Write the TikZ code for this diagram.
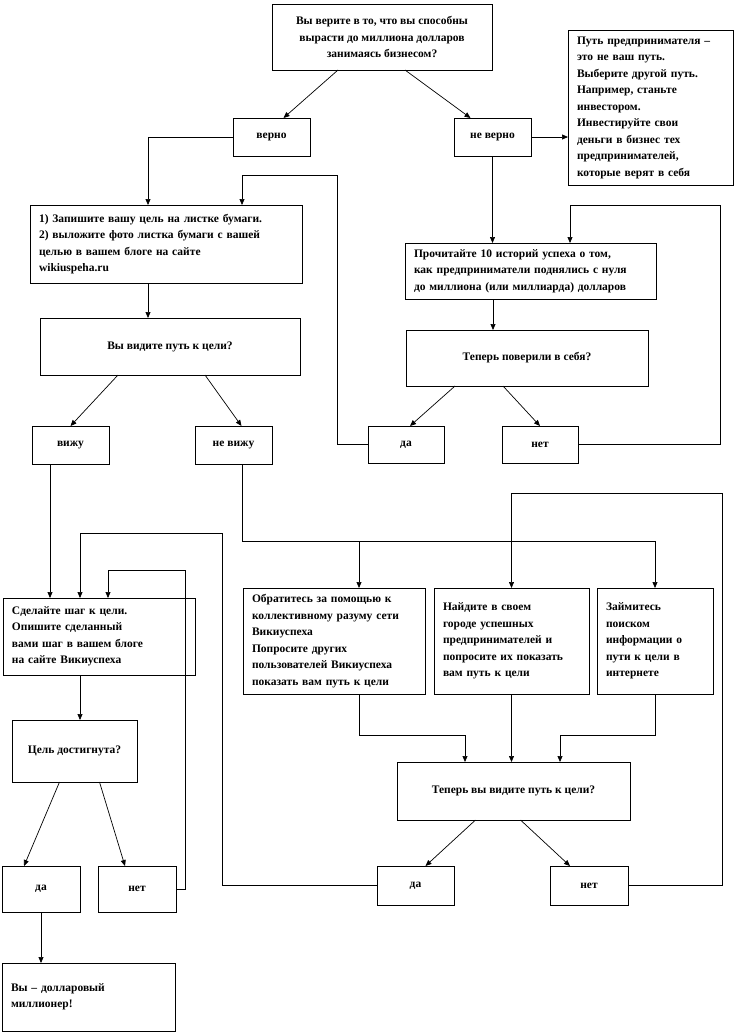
\documentclass[tikz,border=0pt]{standalone}
\usepackage{fontspec}
\setmainfont{Liberation Serif}
\usetikzlibrary{arrows.meta, positioning}

\begin{document}
\begin{tikzpicture}[x=1pt, y=-1pt,
                caja/.style={
                    rectangle,
                    draw=black,
                    line width=0.7pt,
                    outer sep=0pt,
                    anchor=north west,
                    align=left,
                    font=\bfseries\fontsize{11.5}{16.5}\selectfont,
                    inner xsep=9pt,
                    inner ysep=3pt
                },
                cajac/.style={caja, align=center},
                flecha/.style={line width=0.7pt, -{Triangle[length=6pt, width=5pt]}},
                linea/.style={line width=0.7pt}
            ]
                \useasboundingbox (0,0) rectangle (735,1034);
                % primera pregunta y respuestas
                \node[cajac, minimum width=220pt, minimum height=66pt] (preg) at (272,4) {Вы верите в то, что вы способны\\вырасти до миллиона долларов\\занимаясь бизнесом?};
                \node[caja, minimum width=165pt, minimum height=155pt, text width=147pt] (otro) at (568,30) {Путь предпринимателя –\\это не ваш путь.\\Выберите другой путь.\\Например, станьте\\инвестором.\\Инвестируйте свои\\деньги в бизнес тех\\предпринимателей,\\которые верят в себя};
                \node[cajac, minimum width=77pt, minimum height=38pt] (verno) at (233,118) {верно};
                \node[cajac, minimum width=77pt, minimum height=38pt] (neverno) at (454,118) {не верно};
                \node[caja, minimum width=272pt, minimum height=78pt, text width=254pt] (meta) at (30,205) {1) Запишите вашу цель на листке бумаги.\\2) выложите фото листка бумаги с вашей\\целью в вашем блоге на сайте\\wikiuspeha.ru};
                \node[caja, minimum width=251pt, minimum height=56pt, text width=233pt] (leer) at (405,243) {Прочитайте 10 историй успеха о том,\\как предприниматели поднялись с нуля\\до миллиона (или миллиарда) долларов};
                \node[cajac, minimum width=260pt, minimum height=57pt] (ves) at (40,318) {Вы видите путь к цели?};
                \node[cajac, minimum width=242pt, minimum height=56pt] (cree) at (406,330) {Теперь поверили в себя?};
                \node[cajac, minimum width=77pt, minimum height=38pt] (veo) at (32,426) {вижу};
                \node[cajac, minimum width=77pt, minimum height=38pt] (noveo) at (195,426) {не вижу};
                \node[cajac, minimum width=76pt, minimum height=37pt] (si1) at (368,426) {да};
                \node[cajac, minimum width=76pt, minimum height=37pt] (no1) at (502,426) {нет};
                % segunda parte
                \node[caja, minimum width=192pt, minimum height=77pt, text width=174pt] (paso) at (3,598) {Сделайте шаг к цели.\\Опишите сделанный\\вами шаг в вашем блоге\\на сайте Викиуспеха};
                \node[caja, minimum width=182pt, minimum height=106pt, text width=164pt] (red) at (243,588) {Обратитесь за помощью к\\коллективному разуму сети\\Викиуспеха\\Попросите других\\пользователей Викиуспеха\\показать вам путь к цели};
                \node[caja, minimum width=155pt, minimum height=106pt, text width=137pt] (ciudad) at (434,588) {Найдите в своем\\городе успешных\\предпринимателей и\\попросите их показать\\вам путь к цели};
                \node[caja, minimum width=116pt, minimum height=106pt, text width=98pt] (web) at (597,588) {Займитесь\\поиском\\информации о\\пути к цели в\\интернете};
                \node[cajac, minimum width=233pt, minimum height=58pt] (ves2) at (397,762) {Теперь вы видите путь к цели?};
                \node[cajac, minimum width=77pt, minimum height=39pt] (si2) at (377,866) {да};
                \node[cajac, minimum width=78pt, minimum height=39pt] (no2) at (550,866) {нет};
                \node[cajac, minimum width=125pt, minimum height=62pt] (logro) at (12,720) {Цель достигнута?};
                \node[cajac, minimum width=78pt, minimum height=46pt] (si3) at (2,866) {да};
                \node[cajac, minimum width=78pt, minimum height=46pt] (no3) at (98,866) {нет};
                \node[caja, minimum width=173pt, minimum height=68pt, text width=155pt] (fin) at (2,963) {Вы – долларовый\\миллионер!};
                % esquinas de los retornos
                \coordinate (c1) at (720,205);
                \coordinate (c2) at (337,175);
                \coordinate (c3) at (655,541);
                \coordinate (c4) at (722,493);
                \coordinate (c5) at (222,533);
                \coordinate (c6) at (185,570);
                % flechas
                \draw[flecha] ([xshift=-44pt]preg.south) -- ([xshift=12pt]verno.north);
                \draw[flecha] ([xshift=23pt]preg.south) -- ([xshift=-22pt]neverno.north);
                \draw[flecha] (neverno.east) -- (neverno.east -| otro.west);
                \draw[flecha] (verno.west) -| ([xshift=-18pt]meta.north);
                \draw[flecha] (neverno.south) -- (neverno.south |- leer.north);
                \draw[flecha] ([xshift=-18pt]meta.south) -- ([xshift=-18pt]meta.south |- ves.north);
                \draw[flecha] ([xshift=-37.5pt]leer.south) -- ([xshift=-37.5pt]leer.south |- cree.north);
                \draw[flecha] ([xshift=-52pt]ves.south) -- (veo.north);
                \draw[flecha] ([xshift=35pt]ves.south) -- ([xshift=8pt]noveo.north);
                \draw[flecha] ([xshift=-72pt]cree.south) -- ([xshift=4pt]si1.north);
                \draw[flecha] ([xshift=-24pt]cree.south) -- (no1.north);
                \draw[flecha] (no1.east) -| (c1) -| ([xshift=39.5pt]leer.north);
                \draw[flecha] (si1.west) -| (c2) -| ([xshift=76pt]meta.north);
                \draw[flecha] ([xshift=-20.5pt]veo.south) -- ([xshift=-20.5pt]veo.south |- paso.north);
                \draw[linea] ([xshift=8.5pt]noveo.south) |- (c3);
                \draw[flecha] ([xshift=25pt]red.north |- c3) -- ([xshift=25pt]red.north);
                \draw[flecha] (c3) -- (web.north);
                \draw[flecha] (no2.east) -| (c4) -| (ciudad.north);
                \draw[flecha] ([xshift=25pt]red.south) -- ++(0,41) -| ([xshift=-48.5pt]ves2.north);
                \draw[flecha] (ciudad.south) -- (ciudad.south |- ves2.north);
                \draw[flecha] (web.south) -- ++(0,41) -| ([xshift=46.5pt]ves2.north);
                \draw[flecha] ([xshift=-38pt]ves2.south) -- ([xshift=10pt]si2.north);
                \draw[flecha] ([xshift=7pt]ves2.south) -- ([xshift=-19pt]no2.north);
                \draw[flecha] (si2.west) -| (c5) -| ([xshift=-19pt]paso.north);
                \draw[flecha] (no3.east) -| (c6) -| ([xshift=9pt]paso.north);
                \draw[flecha] ([xshift=-19pt]paso.south) -- ([xshift=-19pt]paso.south |- logro.north);
                \draw[flecha] ([xshift=-15pt]logro.south) -- ([xshift=-17pt]si3.north);
                \draw[flecha] ([xshift=25pt]logro.south) -- ([xshift=-12pt]no3.north);
                \draw[flecha] (si3.south) -- (si3.south |- fin.north);
            \end{tikzpicture}
\end{document}
